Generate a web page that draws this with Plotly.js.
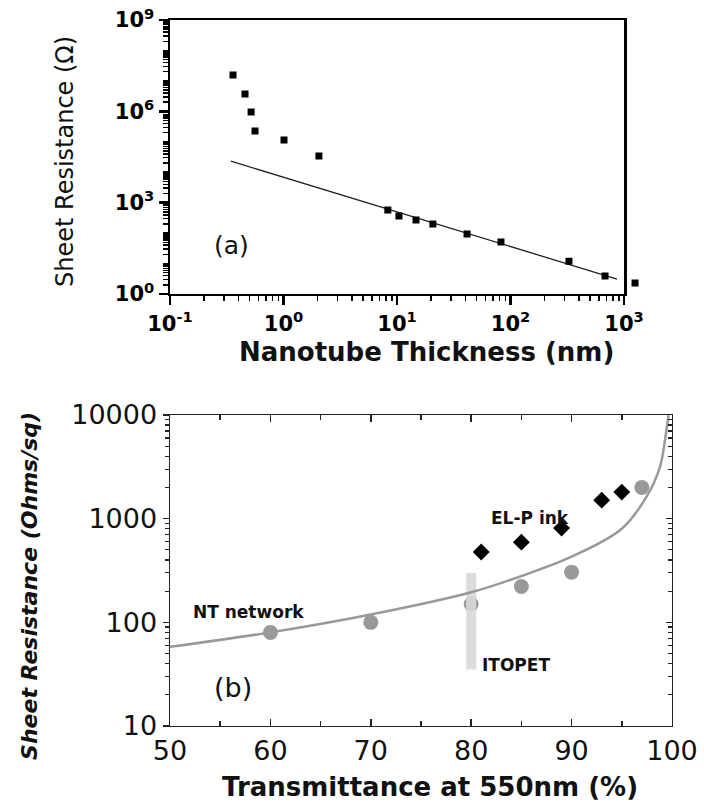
<!DOCTYPE html>
<html>
<head>
<meta charset="utf-8">
<script src="https://cdn.plot.ly/plotly-3.0.1.min.js"></script>
<style>
  html, body { margin: 0; padding: 0; background: #ffffff; }
  #chart { width: 704px; height: 807px; }
</style>
</head>
<body>
<div id="chart"></div>
<script>
// ---------- Panel (a): sheet resistance vs nanotube film thickness ----------
const thicknessNm = [0.359, 0.458, 0.518, 0.561, 1.01, 2.05, 8.3, 10.4, 14.7, 20.7, 41.4, 82.4, 327, 680, 1250];
const sheetResOhm = [1.56e7, 3.7e6, 9.5e5, 2.25e5, 1.15e5, 3.4e4, 575, 365, 270, 200, 93, 51, 12, 3.9, 2.3];
const fitThicknessNm = [0.344, 867];
const fitResOhm = [2.3e4, 3.1];
const topXTickVals = [0.1, 1, 10, 100, 1000];
const topXTickText = ['10<sup>-1</sup>', '10<sup>0</sup>', '10<sup>1</sup>', '10<sup>2</sup>', '10<sup>3</sup>'];
const topYTickVals = [1, 1e3, 1e6, 1e9];
const topYTickText = ['10<sup>0</sup>', '10<sup>3</sup>', '10<sup>6</sup>', '10<sup>9</sup>'];

// ---------- Panel (b): sheet resistance vs transmittance ----------
const curveT = [50, 60, 70, 80, 85, 90, 95, 97.5, 98.8, 99.3, 99.65];
const curveR = [58, 80, 119, 195, 280, 430, 800, 1650, 3150, 5700, 10000];
const ntT = [60, 70, 80, 85, 90, 97];
const ntR = [80, 100, 150, 222, 305, 2000];
const elpT = [81, 85, 89, 93, 95];
const elpR = [477, 594, 811, 1510, 1806];
const itoT = [80, 80];
const itoR = [35, 300];
const botXTickVals = [50, 60, 70, 80, 90, 100];
const botYTickVals = [10, 100, 1000, 10000];
const botYTickText = ['10', '100', '1000', '10000'];

// minor log tick positions (axis decoration, not data)
function logMinor(lo, hi) {
  const out = [];
  for (let e = lo; e < hi; e++) {
    for (let k = 1; k <= 9; k++) out.push(k * Math.pow(10, e));
  }
  return out;
}

const FONT = 'DejaVu Sans, Liberation Sans, Arial, sans-serif';

// panel (a) frame and a wider hidden twin axis with the same scale,
// so the marker lying beyond 10^3 (outside the frame) is still drawn
const topDomain = [0.2415, 0.8864];
const topRange = [-1, 3];
const twinDomain = [0.2415, 0.965];
const twinRange = [topRange[0], topRange[0] + (topRange[1] - topRange[0]) * (twinDomain[1] - twinDomain[0]) / (topDomain[1] - topDomain[0])];

const traces = [
  { x: fitThicknessNm, y: fitResOhm, xaxis: 'x', yaxis: 'y', mode: 'lines',
    line: { color: '#222', width: 1.3 }, showlegend: false, hoverinfo: 'skip' },
  { x: thicknessNm, y: sheetResOhm, xaxis: 'x3', yaxis: 'y', mode: 'markers',
    marker: { symbol: 'square', size: 7, color: '#000' }, showlegend: false },

  { x: curveT, y: curveR, xaxis: 'x2', yaxis: 'y3', mode: 'lines',
    line: { color: '#999', width: 2.5, shape: 'spline', smoothing: 1 }, showlegend: false },
  { x: ntT, y: ntR, xaxis: 'x2', yaxis: 'y2', mode: 'markers',
    marker: { symbol: 'circle', size: 15, color: '#999' }, showlegend: false },
  { x: itoT, y: itoR, xaxis: 'x2', yaxis: 'y2', mode: 'lines',
    line: { color: '#d8d8d8', width: 10 }, opacity: 0.9, showlegend: false },
  { x: elpT, y: elpR, xaxis: 'x2', yaxis: 'y2', mode: 'markers',
    marker: { symbol: 'diamond', size: 13, color: '#000' }, showlegend: false }
];

const layout = {
  width: 704, height: 807,
  margin: { l: 0, r: 0, t: 0, b: 0 },
  paper_bgcolor: '#fff', plot_bgcolor: 'rgba(0,0,0,0)',
  showlegend: false,
  font: { family: FONT, color: '#000' },
  xaxis: {
    domain: topDomain, anchor: 'y', type: 'log', range: topRange,
    tickmode: 'array', tickvals: topXTickVals, ticktext: topXTickText,
    ticks: 'outside', ticklen: 9, tickwidth: 2.5, tickcolor: '#000',
    showline: true, linewidth: 2.5, linecolor: '#000', mirror: true,
    showgrid: false, zeroline: false,
    tickfont: { family: FONT, size: 21, weight: 'bold', color: '#000' },
    minor: { tickmode: 'array', tickvals: logMinor(-1, 3), ticks: 'outside', ticklen: 5, tickwidth: 1.5, tickcolor: '#000', showgrid: false }
  },
  xaxis3: {
    domain: twinDomain, anchor: 'y', type: 'log', range: twinRange,
    visible: false, showgrid: false, zeroline: false
  },
  yaxis: {
    domain: [0.6357, 0.9752], anchor: 'x', type: 'log', range: [0, 9],
    tickmode: 'array', tickvals: topYTickVals, ticktext: topYTickText,
    ticks: 'outside', ticklen: 9, tickwidth: 2.5, tickcolor: '#000',
    showline: true, linewidth: 2.5, linecolor: '#000', mirror: true,
    showgrid: false, zeroline: false,
    tickfont: { family: FONT, size: 21, weight: 'bold', color: '#000' },
    minor: { tickmode: 'array', tickvals: logMinor(0, 9), ticks: 'outside', ticklen: 5, tickwidth: 1.5, tickcolor: '#000', showgrid: false }
  },
  xaxis2: {
    domain: [0.2415, 0.9545], anchor: 'y2', type: 'linear', range: [50, 100],
    tickmode: 'array', tickvals: botXTickVals,
    ticks: 'inside', ticklen: 7, tickwidth: 1.5, tickcolor: '#222',
    showline: true, linewidth: 1.5, linecolor: '#222', mirror: 'ticks',
    showgrid: false, zeroline: false,
    tickfont: { family: FONT, size: 27, color: '#111' },
    minor: { tickmode: 'linear', tick0: 55, dtick: 10, ticks: 'inside', ticklen: 5, tickwidth: 1.5, tickcolor: '#222', showgrid: false }
  },
  yaxis2: {
    domain: [0.1004, 0.4857], anchor: 'x2', type: 'log', range: [1, 4],
    tickmode: 'array', tickvals: botYTickVals, ticktext: botYTickText,
    ticks: 'outside', ticklen: 6, tickwidth: 1.5, tickcolor: '#222',
    showline: true, linewidth: 1.5, linecolor: '#222', mirror: true,
    showgrid: false, zeroline: false,
    tickfont: { family: FONT, size: 27, color: '#111' },
    minor: { tickmode: 'array', tickvals: logMinor(1, 4), ticks: 'outside', ticklen: 4, tickwidth: 1.2, tickcolor: '#222', showgrid: false }
  },
  yaxis3: {
    overlaying: 'y2', side: 'right', anchor: 'x2', type: 'log', range: [1, 4],
    tickmode: 'array', tickvals: botYTickVals, showticklabels: false,
    ticks: 'inside', ticklen: 6, tickwidth: 1.5, tickcolor: '#222',
    showline: false, showgrid: false, zeroline: false,
    minor: { tickmode: 'array', tickvals: logMinor(1, 4), ticks: 'inside', ticklen: 4, tickwidth: 1.2, tickcolor: '#222', showgrid: false }
  },
  annotations: [
    { text: 'Sheet Resistance (Ω)', xref: 'paper', yref: 'paper', x: 0.0923, y: 0.8005,
      textangle: -90, showarrow: false, xanchor: 'center', yanchor: 'middle',
      font: { family: FONT, size: 24, color: '#111' } },
    { text: 'Nanotube Thickness (nm)', xref: 'paper', yref: 'paper', x: 0.6065, y: 0.5638,
      showarrow: false, xanchor: 'center', yanchor: 'middle',
      font: { family: FONT, size: 26, weight: 'bold', color: '#111' } },
    { text: '(a)', xref: 'paper', yref: 'paper', x: 0.3295, y: 0.6964,
      showarrow: false, xanchor: 'center', yanchor: 'middle',
      font: { family: FONT, size: 25, color: '#111' } },
    { text: 'Sheet Resistance (Ohms/sq)', xref: 'paper', yref: 'paper', x: 0.0426, y: 0.2739,
      textangle: -90, showarrow: false, xanchor: 'center', yanchor: 'middle',
      font: { family: FONT, size: 22, weight: 'bold', style: 'italic', color: '#111' } },
    { text: 'Transmittance at 550nm (%)', xref: 'paper', yref: 'paper', x: 0.6108, y: 0.0248,
      showarrow: false, xanchor: 'center', yanchor: 'middle',
      font: { family: FONT, size: 26, weight: 'bold', color: '#111' } },
    { text: '(b)', xref: 'paper', yref: 'paper', x: 0.331, y: 0.1475,
      showarrow: false, xanchor: 'center', yanchor: 'middle',
      font: { family: FONT, size: 27, color: '#111' } },
    { text: 'NT network', xref: 'paper', yref: 'paper', x: 0.353, y: 0.2416,
      showarrow: false, xanchor: 'center', yanchor: 'middle',
      font: { family: FONT, size: 17, weight: 'bold', color: '#111' } },
    { text: 'EL-P ink', xref: 'paper', yref: 'paper', x: 0.753, y: 0.358,
      showarrow: false, xanchor: 'center', yanchor: 'middle',
      font: { family: FONT, size: 17, weight: 'bold', color: '#111' } },
    { text: 'ITOPET', xref: 'paper', yref: 'paper', x: 0.733, y: 0.176,
      showarrow: false, xanchor: 'center', yanchor: 'middle',
      font: { family: FONT, size: 17, weight: 'bold', color: '#111' } }
  ]
};

Plotly.newPlot('chart', traces, layout, { staticPlot: true, displayModeBar: false });
</script>
</body>
</html>
